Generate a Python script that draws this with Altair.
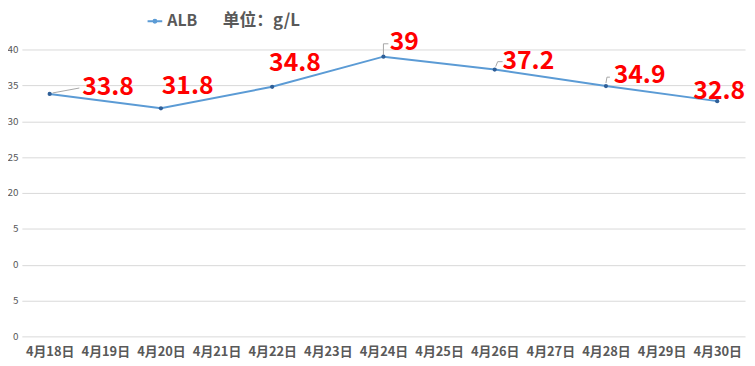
import altair as alt
import pandas as pd

all_dates = ["4月18日", "4月19日", "4月20日", "4月21日", "4月22日", "4月23日", "4月24日",
             "4月25日", "4月26日", "4月27日", "4月28日", "4月29日", "4月30日"]
measured_dates = ["4月18日", "4月20日", "4月22日", "4月24日", "4月26日", "4月28日", "4月30日"]
alb_values = [33.8, 31.8, 34.8, 39, 37.2, 34.9, 32.8]
y_ticks = [0, 5, 10, 15, 20, 25, 30, 35, 40]

df = pd.DataFrame({"date": measured_dates, "ALB": alb_values, "series": ["ALB"] * len(alb_values)})

# label offsets in pixels (layout only)
label_offsets = [(59, -7), (27, -22), (23, -24), (21, -15), (34, -9), (34, -11), (2, -10)]
# leader-line shapes (pixel paths, layout only)
leader_dates = ["4月18日", "4月24日", "4月26日", "4月28日"]
leader_paths = ["M3,-1L30,-6", "M0,-2L0,-13L5,-13", "M1,-3L3,-8L8,-8", "M0,-3L1,-9L4,-9"]

FONT = "Noto Sans CJK SC"
GREY = "#595959"
BLUE = "#5B9BD5"

x_enc = alt.X("date:N", scale=alt.Scale(domain=all_dates, type="point", padding=0.5), title=None)
y_enc = alt.Y("ALB:Q", scale=alt.Scale(domain=[0, 40]), title=None)

line = alt.Chart(df).mark_line(color=BLUE, strokeWidth=2).encode(
    x=x_enc, y=y_enc,
    color=alt.Color("series:N", scale=alt.Scale(range=[BLUE]),
                    legend=alt.Legend(title="单位：g/L", titleOrient="right", orient="none",
                                      legendX=126, legendY=-37, titleFont=FONT, titleFontSize=17,
                                      titleFontWeight="bold", titleColor=GREY, titlePadding=26,
                                      labelFont=FONT, labelFontSize=16, labelFontWeight="bold",
                                      labelColor=GREY, symbolSize=220, symbolStrokeWidth=2,
                                      symbolType="M-1,0H1M-0.2,0A0.2,0.2,0,1,1,0.2,0A0.2,0.2,0,1,1,-0.2,0",
                                      symbolFillColor=BLUE, symbolStrokeColor=BLUE,
                                      titleBaseline="middle", titleAnchor="middle")),
)
leaders = alt.Chart(df).transform_filter(
    alt.FieldOneOfPredicate(field="date", oneOf=leader_dates)
).mark_point(filled=False, color="#A6A6A6", size=4, strokeWidth=1, opacity=1).encode(
    x=x_enc, y=y_enc,
    shape=alt.Shape("date:N", scale=alt.Scale(domain=leader_dates, range=leader_paths), legend=None),
)
points = alt.Chart(df).mark_point(filled=True, color="#2F5F98", size=18, opacity=1).encode(x=x_enc, y=y_enc)

layers = [line, leaders, points]
for d, (dx, dy) in zip(measured_dates, label_offsets):
    layers.append(
        alt.Chart(df).transform_filter(alt.datum.date == d).mark_text(
            color="#FF0000", font=FONT, fontSize=25, fontWeight="bold",
            dx=dx, dy=dy, align="center", baseline="middle"
        ).encode(x=x_enc, y=y_enc, text=alt.Text("ALB:Q"))
    )

chart = alt.layer(*layers).properties(
    width=731, height=290,
    autosize=alt.AutoSizeParams(type="none"),
    padding={"left": 14, "top": 40, "right": 2, "bottom": 28},
).configure_view(stroke=None).configure_axisX(
    grid=False, labelAngle=0, ticks=False, domain=False,
    labelFont=FONT, labelFontSize=13, labelFontWeight="bold",
    labelColor=GREY, labelPadding=9,
).configure_axisY(
    values=y_ticks, ticks=False, domain=False, grid=True,
    labelFont=FONT, labelFontSize=10, labelColor=GREY,
    labelPadding=4, gridColor="#D9D9D9",
    labelExpr="datum.value >= 20 || datum.value < 10 ? datum.label : slice(datum.label, 1)",
)

chart.save("out.html", embed_options={"renderer": "svg", "actions": False})
